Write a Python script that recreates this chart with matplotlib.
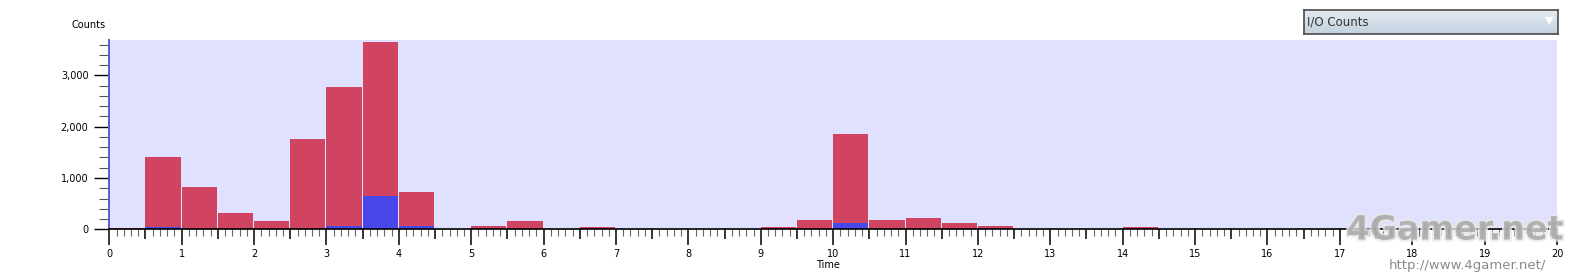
import numpy as np
import matplotlib
matplotlib.use("Agg")
import matplotlib.pyplot as plt
from matplotlib.ticker import MultipleLocator, FuncFormatter, FixedLocator
import matplotlib.patheffects as pe

# bins of 0.5 time units, 0..20
bin_start = np.arange(0, 20, 0.5)
total_counts = [25, 1410, 823, 317, 161, 1757, 2768, 3660, 726, 0,
                60, 161, 0, 45, 0, 0, 0, 0, 40, 187,
                1854, 187, 226, 122, 64, 0, 0, 0, 40, 0,
                0, 0, 0, 0, 0, 0, 0, 0, 0, 0]
read_counts = [0, 40, 0, 0, 0, 0, 60, 654, 60, 0,
               0, 0, 0, 0, 0, 0, 0, 0, 0, 0,
               122, 0, 0, 0, 0, 0, 0, 0, 0, 0,
               0, 0, 0, 0, 0, 0, 0, 0, 0, 0]

W, H = 1579, 279
fig = plt.figure(figsize=(W / 100, H / 100), dpi=100)
ax = fig.add_axes([109.3 / W, 1 - 229.3 / H, (1557 - 109.3) / W, (229.3 - 40) / H])
ax.set_facecolor("#e0e0ff")

# 1px white gap on the right of every bar
bw = 0.5 - 1.0 / 72.4
ax.bar(bin_start, total_counts, width=bw, align="edge", color="#d04462",
       edgecolor="none", zorder=2)
ax.bar(bin_start, read_counts, width=bw, align="edge", color="#4848e8",
       edgecolor="none", zorder=3)

ax.set_xlim(0, 20)
ax.set_ylim(0, 3690)

for s in ["top", "right"]:
    ax.spines[s].set_visible(False)
ax.spines["left"].set_color("#5a5ad0")
ax.spines["left"].set_linewidth(1.4)
ax.spines["bottom"].set_color("black")
ax.spines["bottom"].set_linewidth(1.2)
ax.spines["bottom"].set_zorder(5)

# y axis
ax.yaxis.set_major_locator(MultipleLocator(1000))
ax.yaxis.set_minor_locator(MultipleLocator(200))
ax.yaxis.set_major_formatter(FuncFormatter(lambda v, p: f"{int(v):,}"))
ax.tick_params(axis="y", which="major", length=11, width=1, color="black",
               labelsize=7, pad=4)
ax.tick_params(axis="y", which="minor", length=7, width=0.8, color="#555555")

# x axis: integers long, 0.1 short
ax.xaxis.set_major_locator(MultipleLocator(1))
ax.xaxis.set_minor_locator(FixedLocator([i / 10 for i in range(201) if i % 5 != 0]))
ax.tick_params(axis="x", which="major", length=11.5, width=1.1, color="black",
               labelsize=7, pad=3)
ax.tick_params(axis="x", which="minor", length=5, width=0.8, color="#666666")

# half-unit ticks
sec = ax.secondary_xaxis("bottom")
sec.spines["bottom"].set_visible(False)
sec.xaxis.set_major_locator(FixedLocator(np.arange(0.5, 20, 1.0)))
sec.tick_params(axis="x", which="major", length=7.5, width=1.1, color="black",
                labelbottom=False)
sec.xaxis.set_minor_locator(FixedLocator([]))

fig.text(72 / W, 1 - 25 / H, "Counts", fontsize=7, ha="left", va="center")
fig.text(828 / W, 1 - 265 / H, "Time", fontsize=7, ha="center", va="center")

# dropdown box
dd = fig.add_axes([1304 / W, 1 - 34 / H, 254 / W, 24 / H])
grad = np.linspace(0, 1, 50).reshape(-1, 1)
dd.imshow(grad, aspect="auto", cmap=matplotlib.colors.LinearSegmentedColormap.from_list(
    "g", ["#e4eaf1", "#c3d1df"]), extent=[0, 1, 0, 1], origin="upper")
dd.set_xlim(0, 1)
dd.set_ylim(0, 1)
dd.set_xticks([])
dd.set_yticks([])
for s in dd.spines.values():
    s.set_color("#4a4a4a")
    s.set_linewidth(1.2)
dd.text(0.01, 0.5, "I/O Counts", fontsize=8.5, ha="left", va="center", color="#333333")
dd.text(0.965, 0.55, "\u25bc", fontsize=8, ha="center", va="center", color="white")

# watermark
fig.text(1455 / W, 1 - 230 / H, "4Gamer.net", fontsize=24, fontweight="bold",
         ha="center", va="center", color="#a8a8a8", alpha=0.8,
         path_effects=[pe.withStroke(linewidth=3, foreground="#e8e8e8")])
fig.text(1467 / W, 1 - 265 / H, "http://www.4gamer.net/", fontsize=9.5,
         ha="center", va="center", color="#8a8a8a")

fig.savefig("out.png", dpi=100)
